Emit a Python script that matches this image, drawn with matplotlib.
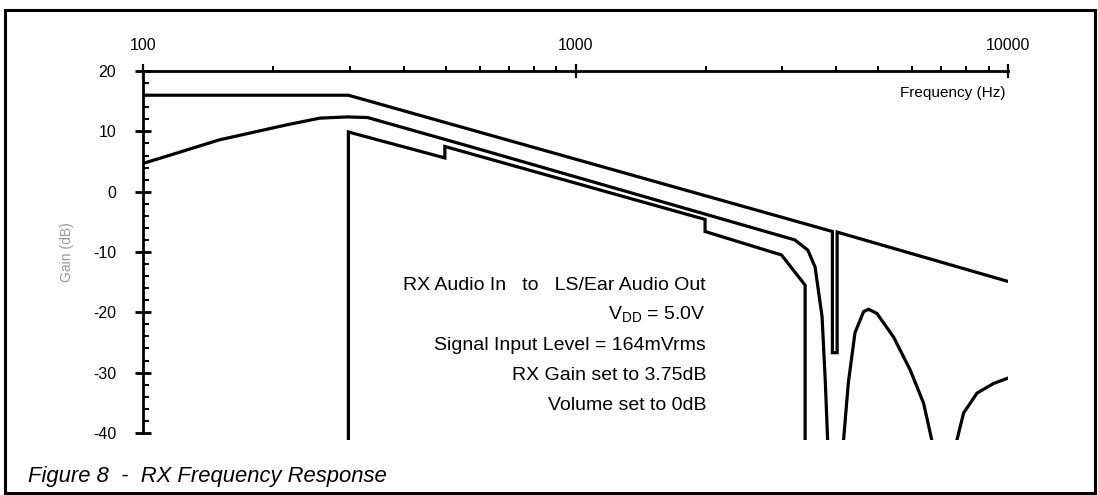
import numpy as np
import matplotlib
matplotlib.use("Agg")
import matplotlib.pyplot as plt
from matplotlib.ticker import LogLocator, MultipleLocator, FuncFormatter, NullFormatter
from matplotlib.patches import Rectangle

plt.rcParams['font.family'] = ['Liberation Sans', 'DejaVu Sans']
plt.rcParams['axes.unicode_minus'] = False

# passband curves
freq_a = [100, 298, 3920, 3920, 4020, 4020, 10000]
gain_a = [16.0, 16.0, -6.6, -26.7, -26.7, -6.7, -14.9]

freq_b = [100, 117, 150, 215, 256, 296, 330, 569, 3210, 3440, 3575, 3710, 3776, 3830]
gain_b = [4.7, 6.2, 8.6, 11.1, 12.2, 12.4, 12.3, 7.5, -8.0, -9.7, -12.5, -20.7, -31.7, -43.0]

freq_c = [298, 298, 498, 498, 1990, 1990, 2990, 3390, 3390]
gain_c = [-43.0, 9.9, 5.6, 7.5, -4.6, -6.6, -10.5, -15.5, -43.0]

# stopband lobes
freq_lobe1 = [4140, 4267, 4421, 4628, 4752, 4970, 5428, 5934, 6371, 6740]
gain_lobe1 = [-43.0, -31.7, -23.4, -19.9, -19.5, -20.2, -24.1, -29.6, -35.1, -43.0]
freq_lobe2 = [7500, 7882, 8468, 9250, 10000]
gain_lobe2 = [-43.0, -36.7, -33.4, -31.8, -30.9]

xticks = [100, 1000, 10000]
yticks = [-40, -30, -20, -10, 0, 10, 20]

notes = ["RX Audio In   to   LS/Ear Audio Out",
         r"V$_{\mathregular{DD}}$ = 5.0V",
         "Signal Input Level = 164mVrms",
         "RX Gain set to 3.75dB",
         "Volume set to 0dB"]

W, H = 1098, 495
fig = plt.figure(figsize=(W / 100, H / 100), dpi=100)
ax = fig.add_axes([143.3 / W, 1 - 440.1 / H, 865 / W, (440.1 - 71.1) / H])

for f, g in [(freq_a, gain_a), (freq_b, gain_b), (freq_c, gain_c),
             (freq_lobe1, gain_lobe1), (freq_lobe2, gain_lobe2)]:
    ax.plot(f, g, color='black', lw=2.3, solid_joinstyle='miter')

ax.set_xscale('log')
ax.set_xlim(100, 10000)
ax.set_ylim(-41.2, 20)

ax.spines['right'].set_visible(False)
ax.spines['bottom'].set_visible(False)
ax.spines['top'].set_linewidth(2)
ax.spines['left'].set_linewidth(2)
ax.spines['left'].set_bounds(-40, 20)

ax.xaxis.tick_top()
ax.set_xticks(xticks)
ax.xaxis.set_major_formatter(FuncFormatter(lambda v, p: f"{v:g}"))
ax.xaxis.set_minor_locator(LogLocator(base=10, subs=np.arange(2, 10)))
ax.xaxis.set_minor_formatter(NullFormatter())
ax.tick_params(axis='x', which='major', direction='inout', length=9.5, width=1.6, pad=8, labelsize=11.5)
ax.tick_params(axis='x', which='minor', direction='out', length=3.5, width=1.4)

ax.set_yticks(yticks)
ax.yaxis.set_minor_locator(MultipleLocator(2))
ax.tick_params(axis='y', which='major', direction='inout', length=11, width=2, pad=14, labelsize=11.5)
ax.tick_params(axis='y', which='minor', direction='in', length=4, width=1.5)
ax.patch.set_alpha(0)

fig.text(1005 / W, 1 - 96.7 / H, "Frequency (Hz)", ha='right', va='baseline', fontsize=11)
fig.text(67 / W, 1 - 252 / H, "Gain (dB)", rotation=90, ha='center', va='center',
         fontsize=10, color='#999999')

for i, line in enumerate(notes):
    fig.text(706 / W, 1 - (290 + 30 * i) / H, line, ha='right', va='baseline', fontsize=14)

fig.text(28 / W, 1 - 482 / H, "Figure 8  -  RX Frequency Response", ha='left', va='baseline',
         fontsize=15.8, style='italic')

# frame round the figure
fig.patches.append(Rectangle((5 / W, 2 / H), 1090 / W, 483 / H, transform=fig.transFigure,
                             fill=False, lw=2.2, edgecolor='black'))

fig.savefig("out.png", dpi=100)
